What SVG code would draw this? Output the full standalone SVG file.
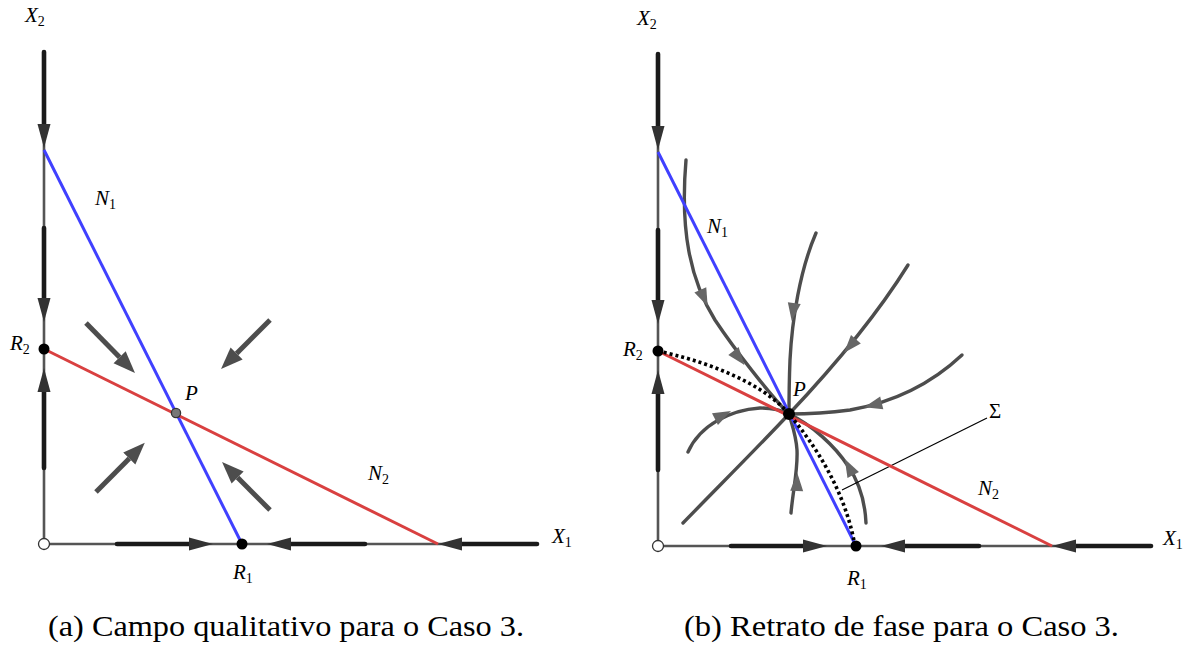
<svg xmlns="http://www.w3.org/2000/svg" xmlns:xlink="http://www.w3.org/1999/xlink" width="1188" height="646" viewBox="0 0 1188 646">
<style>
.base{stroke:#555;stroke-width:2.6;fill:none}
.thick{stroke:#1a1a1a;stroke-width:4.6;fill:none;stroke-linecap:round}
.axh{fill:#333}
.n1{stroke:#4040ff;stroke-width:3;fill:none}
.n2{stroke:#d94040;stroke-width:3;fill:none}
.fld{stroke:#4d4d4d;stroke-width:5;fill:none}
.traj{stroke:#4d4d4d;stroke-width:3.4;fill:none;stroke-linecap:round}
.mah{fill:#666}
.sep{stroke:#000;stroke-width:3.6;fill:none;stroke-dasharray:3 3}
.lead{stroke:#000;stroke-width:1.2;fill:none}
.m{font-family:'Liberation Serif','Times New Roman',serif;font-style:italic;font-size:21px;fill:#000}
.sub{font-style:normal;font-size:14px}
.cap{font-family:'Liberation Serif','Times New Roman',serif;font-size:29px;fill:#000}
</style>
<defs>
<path id="axh" d="M0,0 L-24,-6.5 L-24,6.5 Z"/>
<path id="mah" d="M9,0 L-9,-6.5 L-9,6.5 Z"/>
<marker id="big" viewBox="0 -10 24 20" markerWidth="24" markerHeight="20" refX="0" refY="0" orient="auto" markerUnits="userSpaceOnUse">
<path d="M0,-8.5 L22,0 L0,8.5 Z" fill="#4d4d4d"/>
</marker>
<g id="axes">
<path class="base" d="M44,52 L44,544 L537,544"/>
<path class="thick" d="M44,52 L44,130"/>
<path class="thick" d="M44,228 L44,305"/>
<path class="thick" d="M44,385 L44,468"/>
<path class="thick" d="M117,544 L195,544"/>
<path class="thick" d="M285,544 L365,544"/>
<path class="thick" d="M455,544 L537,544"/>
<use href="#axh" class="axh" transform="translate(44,148) rotate(90)"/>
<use href="#axh" class="axh" transform="translate(44,322) rotate(90)"/>
<use href="#axh" class="axh" transform="translate(44,368) rotate(-90)"/>
<use href="#axh" class="axh" transform="translate(213,544)"/>
<use href="#axh" class="axh" transform="translate(267,544) rotate(180)"/>
<use href="#axh" class="axh" transform="translate(438,544) rotate(180)"/>
</g>
</defs>

<g id="panel-a">
<use href="#axes"/>
<g id="nullclines-a">
<path class="n1" d="M44,150 L242,544"/>
<path class="n2" d="M44,349 L438,544"/>
</g>
<g id="connectors-a">
<path class="fld" d="M86,323 L119.6,357.3" marker-end="url(#big)"/>
<path class="fld" d="M270,320 L236.6,353.4" marker-end="url(#big)"/>
<path class="fld" d="M96,492 L129.3,458.4" marker-end="url(#big)"/>
<path class="fld" d="M270,510 L237.6,477.6" marker-end="url(#big)"/>
</g>
<g id="origin-a"><circle cx="44" cy="544" r="5.5" fill="#fff" stroke="#333" stroke-width="1.3"/></g>
<g id="R1-a"><circle cx="242" cy="544" r="5.5" fill="#000"/></g>
<g id="R2-a"><circle cx="44" cy="349" r="5.5" fill="#000"/></g>
<g id="P-a"><circle cx="176" cy="413" r="4.6" fill="#777" stroke="#333" stroke-width="1.3"/></g>
<g id="labels-a">
<text class="m" x="25" y="22">X<tspan class="sub" dy="4">2</tspan></text>
<text class="m" x="95" y="205">N<tspan class="sub" dy="4">1</tspan></text>
<text class="m" x="10" y="350">R<tspan class="sub" dy="4">2</tspan></text>
<text class="m" x="185" y="400">P</text>
<text class="m" x="368" y="480">N<tspan class="sub" dy="4">2</tspan></text>
<text class="m" x="552" y="543">X<tspan class="sub" dy="4">1</tspan></text>
<text class="m" x="233" y="579">R<tspan class="sub" dy="4">1</tspan></text>
</g>
</g>

<g id="panel-b">
<use href="#axes" transform="translate(614,2)"/>
<g id="connectors-b">
<path class="traj" d="M686,160 C680,230 690,280 715,320 C735,350 770,395 789,414"/>
<path class="traj" d="M816,233 C800,270 792,320 790,360 C789,385 789,400 789,414"/>
<path class="traj" d="M908,265 C880,310 840,360 789,414"/>
<path class="traj" d="M789,414 C760,445 720,485 683,523"/>
<path class="traj" d="M962,355 C930,385 890,403 850,410 C820,414 800,414 789,414"/>
<path class="traj" d="M688,452 C700,425 730,410 760,408 C775,408 783,411 789,414"/>
<path class="traj" d="M791,513 C793,490 798,470 797,450 C796,435 792,425 789,414"/>
<path class="traj" d="M866,523 C865,500 859,482 848,466 C835,446 812,425 789,414"/>
<use href="#mah" class="mah" transform="translate(704,298) rotate(66)"/>
<use href="#mah" class="mah" transform="translate(739,358) rotate(52)"/>
<use href="#mah" class="mah" transform="translate(793,312) rotate(98)"/>
<use href="#mah" class="mah" transform="translate(850,346) rotate(131)"/>
<use href="#mah" class="mah" transform="translate(873,405) rotate(166)"/>
<use href="#mah" class="mah" transform="translate(723,415) rotate(-27)"/>
<use href="#mah" class="mah" transform="translate(797,482) rotate(-88)"/>
<use href="#mah" class="mah" transform="translate(849,467) rotate(-118)"/>
<path class="lead" d="M842,490 L987,418"/>
</g>
<g id="nullclines-b">
<path class="n1" d="M658,152 L856,546"/>
<path class="n2" d="M658,351 L1052,546"/>
</g>
<g id="separatrix">
<path class="sep" d="M658,351 C700,360 760,380 789,414 C815,445 845,490 855,546"/>
</g>
<g id="origin-b"><circle cx="658" cy="546" r="5.5" fill="#fff" stroke="#333" stroke-width="1.3"/></g>
<g id="R1-b"><circle cx="856" cy="546" r="5.5" fill="#000"/></g>
<g id="R2-b"><circle cx="658" cy="351" r="5.5" fill="#000"/></g>
<g id="P-b"><circle cx="789" cy="414" r="6" fill="#000"/></g>
<g id="labels-b">
<text class="m" x="637" y="25">X<tspan class="sub" dy="4">2</tspan></text>
<text class="m" x="707" y="233">N<tspan class="sub" dy="4">1</tspan></text>
<text class="m" x="623" y="356">R<tspan class="sub" dy="4">2</tspan></text>
<text class="m" x="793" y="396">P</text>
<text class="m" style="font-style:normal" x="989" y="418">Σ</text>
<text class="m" x="978" y="495">N<tspan class="sub" dy="4">2</tspan></text>
<text class="m" x="1163" y="545">X<tspan class="sub" dy="4">1</tspan></text>
<text class="m" x="847" y="585">R<tspan class="sub" dy="4">1</tspan></text>
</g>
</g>

<g id="captions">
<text class="cap" x="48" y="636" textLength="476" lengthAdjust="spacingAndGlyphs">(a) Campo qualitativo para o Caso 3.</text>
<text class="cap" x="684" y="636" textLength="435" lengthAdjust="spacingAndGlyphs">(b) Retrato de fase para o Caso 3.</text>
</g>
</svg>
